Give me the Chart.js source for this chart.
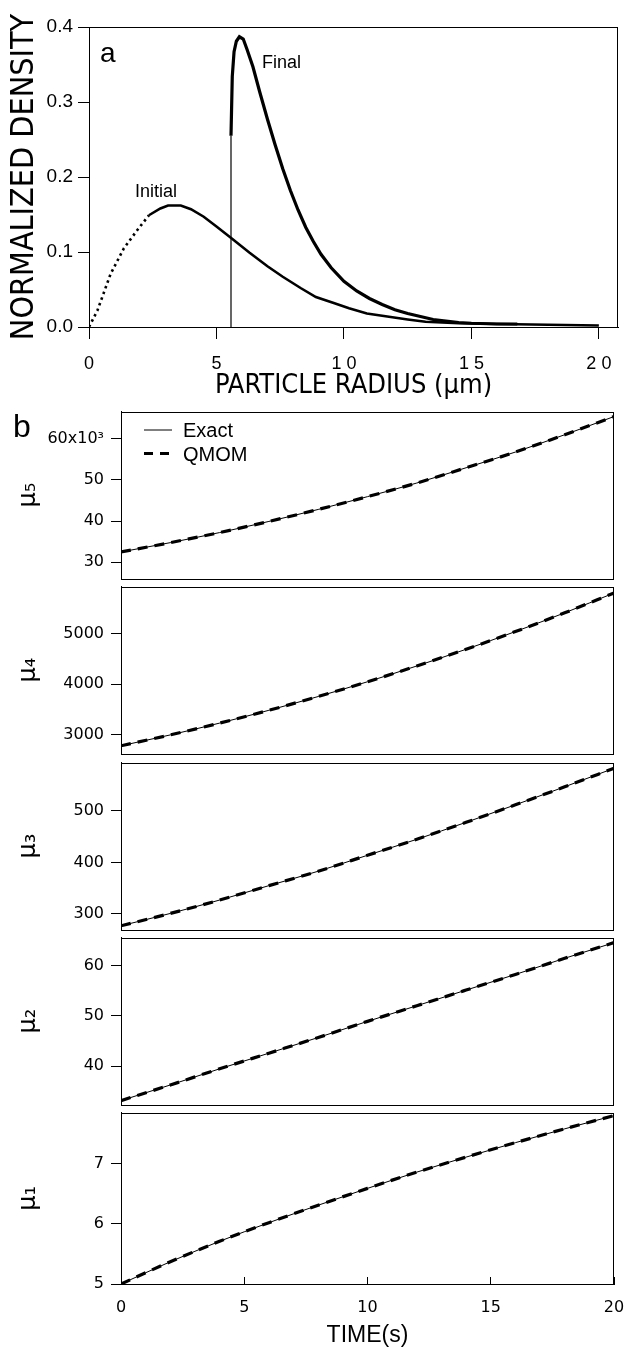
<!DOCTYPE html>
<html><head><meta charset="utf-8">
<script src="https://cdn.jsdelivr.net/npm/chart.js@4.4.1/dist/chart.umd.min.js"></script>
<style>
html,body{margin:0;padding:0;background:#fff;}
body{width:626px;height:1349px;position:relative;overflow:hidden;}
canvas{position:absolute;left:0;}
</style></head><body>
<canvas id="ca" width="626" height="405" style="top:0px"></canvas>
<canvas id="c5" width="626" height="200" style="top:395px"></canvas>
<canvas id="c4" width="626" height="200" style="top:570px"></canvas>
<canvas id="c3" width="626" height="200" style="top:746px"></canvas>
<canvas id="c2" width="626" height="200" style="top:921px"></canvas>
<canvas id="c1" width="626" height="253" style="top:1096px"></canvas>
<script>
// ---------- Panel a data ----------
const radiusInitial  = [0.0, 0.33, 0.85, 1.37, 1.89, 2.35, 2.8, 3.1, 3.6, 4.0, 4.5, 5.0, 5.6, 6.3, 7.0, 7.6, 8.3, 8.9, 9.6, 10.2, 10.9, 11.7, 12.5, 13.2, 14.5, 16.1, 18.0, 20.0];
const densityInitial = [0.0, 0.022, 0.071, 0.105, 0.129, 0.149, 0.158, 0.162, 0.162, 0.157, 0.147, 0.134, 0.118, 0.099, 0.081, 0.067, 0.052, 0.040, 0.032, 0.025, 0.018, 0.014, 0.010, 0.007, 0.005, 0.004, 0.003, 0.002];
const radiusFinal  = [5.57, 5.57, 5.62, 5.69, 5.78, 5.9, 6.05, 6.2, 6.43, 6.7, 7.0, 7.3, 7.6, 7.9, 8.2, 8.5, 8.8, 9.1, 9.5, 10.0, 10.5, 11.0, 11.5, 12.0, 12.5, 13.0, 13.5, 14.0, 14.5, 15.0, 16.0, 16.8];
const densityFinal = [0.0, 0.255, 0.334, 0.367, 0.381, 0.387, 0.384, 0.370, 0.347, 0.313, 0.277, 0.243, 0.211, 0.182, 0.156, 0.133, 0.114, 0.097, 0.079, 0.061, 0.048, 0.038, 0.030, 0.023, 0.018, 0.014, 0.010, 0.008, 0.006, 0.005, 0.004, 0.004];
const radiusTicks  = [0, 5, 10, 15, 20];
const densityTicks = [0, 0.1, 0.2, 0.3, 0.4];

// ---------- Panel b data ----------
const timeS = [0, 2, 4, 6, 8, 10, 12, 14, 16, 18, 20];
const mu5Exact = [32500, 34760, 37200, 39900, 42800, 45900, 49200, 52900, 56700, 60900, 65300];
const mu5Qmom  = [32500, 34760, 37200, 39900, 42800, 45900, 49200, 52900, 56700, 60900, 65300];
const mu4Exact = [2775, 2991, 3226, 3481, 3755, 4049, 4363, 4696, 5048, 5421, 5815];
const mu4Qmom  = [2775, 2991, 3226, 3481, 3755, 4049, 4363, 4696, 5048, 5421, 5815];
const mu3Exact = [277, 301, 327, 355, 383, 414, 445, 478, 512, 547, 583];
const mu3Qmom  = [277, 301, 327, 355, 383, 414, 445, 478, 512, 547, 583];
const mu2Exact = [33.2, 36.3, 39.5, 42.6, 45.7, 48.9, 52.0, 55.1, 58.2, 61.4, 64.5];
const mu2Qmom  = [33.2, 36.3, 39.5, 42.6, 45.7, 48.9, 52.0, 55.1, 58.2, 61.4, 64.5];
const mu1Exact = [5.00, 5.37, 5.71, 6.02, 6.31, 6.59, 6.86, 7.11, 7.35, 7.58, 7.80];
const mu1Qmom  = [5.00, 5.37, 5.71, 6.02, 6.31, 6.59, 6.86, 7.11, 7.35, 7.58, 7.80];
const timeTicks = [0, 5, 10, 15, 20];
const mu5Ticks = [30000, 40000, 50000, 60000];
const mu4Ticks = [3000, 4000, 5000];
const mu3Ticks = [300, 400, 500];
const mu2Ticks = [40, 50, 60];
const mu1Ticks = [5, 6, 7];
const legendLabels = ['Exact', 'QMOM'];

const SANS = "'Liberation Sans', Arial, Helvetica, sans-serif";
const NARROW = "'Liberation Sans Narrow', 'DejaVu Sans Condensed', 'Liberation Sans', sans-serif";
const DEJA = "'DejaVu Sans', 'Liberation Sans', sans-serif";

Chart.defaults.color = '#000';
Chart.defaults.animation = false;

const framePlugin = {
  id: 'frame',
  afterDraw(chart, args, opts) {
    const a = chart.chartArea, c = chart.ctx;
    c.save();
    c.strokeStyle = opts.color || '#000';
    c.lineWidth = 1;
    c.strokeRect(Math.round(a.left) + 0.5, Math.round(a.top) + 0.5, Math.round(a.right - a.left) - 1, Math.round(a.bottom - a.top));
    c.restore();
  }
};
const textPlugin = {
  id: 'notes',
  afterDraw(chart, args, opts) {
    const c = chart.ctx;
    c.save();
    c.fillStyle = '#000';
    c.textBaseline = 'alphabetic';
    (opts.items || []).forEach(t => { c.font = t.font; c.fillText(t.text, t.x, t.y); });
    (opts.lines || []).forEach(l => {
      c.beginPath(); c.lineWidth = l.w; c.strokeStyle = '#000'; c.setLineDash(l.dash || []);
      c.moveTo(l.x1, l.y); c.lineTo(l.x2, l.y); c.stroke();
    });
    c.restore();
  }
};

function pts(xs, ys) { return xs.map((x, i) => ({x: x, y: ys[i]})); }
function noSidePad(s) { s.paddingLeft = 0; s.paddingRight = 0; }

// ---------- Panel a ----------
new Chart(document.getElementById('ca'), {
  type: 'line',
  data: {
    datasets: [
      { label: 'Initial', data: pts(radiusInitial, densityInitial), borderColor: '#000', borderWidth: 2.6, pointRadius: 0, tension: 0,
        segment: { borderDash: ctx => ctx.p1.parsed.x <= 2.4 ? [2.5, 3.5] : undefined } },
      { label: 'Final', data: pts(radiusFinal, densityFinal), borderColor: '#000', borderWidth: 3.2, pointRadius: 0, tension: 0,
        segment: { borderWidth: ctx => (ctx.p0.parsed.x === ctx.p1.parsed.x) ? 1.2 : undefined } }
    ]
  },
  options: {
    responsive: false,
    layout: { padding: { top: 27, right: 8, left: 0, bottom: 0 } },
    plugins: {
      legend: { display: false }, tooltip: { enabled: false },
      frame: {},
      notes: { items: [
        { text: 'a', x: 100, y: 62, font: '28px ' + SANS },
        { text: 'Final', x: 262, y: 68, font: '18px ' + SANS },
        { text: 'Initial', x: 135, y: 197, font: '18px ' + SANS }
      ] }
    },
    scales: {
      x: {
        type: 'linear', min: 0, max: 20.75,
        afterFit: s => { s.height = 78; noSidePad(s); },
        afterBuildTicks: s => { s.ticks = radiusTicks.map(v => ({value: v})); },
        ticks: { font: { family: SANS, size: 18 }, padding: 14, maxRotation: 0, callback: v => String(v).split('').join(' ') },
        grid: { display: true, drawOnChartArea: false, drawTicks: true, tickLength: 12, color: '#000' },
        border: { display: true, color: '#000' },
        title: { display: true, text: 'PARTICLE RADIUS (μm)', font: { family: NARROW, size: 27 }, padding: { top: 0, bottom: 3 } }
      },
      y: {
        type: 'linear', min: 0, max: 0.4,
        afterFit: s => { s.width = 89; },
        afterBuildTicks: s => { s.ticks = densityTicks.map(v => ({value: v})); },
        ticks: { font: { family: SANS, size: 19 }, padding: 5, callback: v => v.toFixed(1) },
        grid: { display: true, drawOnChartArea: false, drawTicks: true, tickLength: 11, color: '#000' },
        border: { display: true, color: '#000' },
        title: { display: true, text: 'NORMALIZED DENSITY', font: { family: NARROW, size: 32 }, padding: { top: 5, bottom: 0 } }
      }
    }
  },
  plugins: [framePlugin, textPlugin]
});

// ---------- Panel b ----------
function muChart(id, title, exact, qmom, yMin, yMax, yTicks, tickFmt, opts) {
  const showX = opts.showX;
  const cfg = {
    type: 'line',
    data: {
      datasets: [
        { label: legendLabels[1], data: pts(timeS, qmom), borderColor: '#000', borderWidth: 3.2, borderDash: [10, 7], pointRadius: 0, cubicInterpolationMode: 'monotone' },
        { label: legendLabels[0], data: pts(timeS, exact), borderColor: '#000', borderWidth: 1, pointRadius: 0, cubicInterpolationMode: 'monotone' }
      ]
    },
    options: {
      responsive: false,
      layout: { padding: { top: 13, right: 12, left: 0, bottom: showX ? 0 : opts.padBottom } },
      plugins: { legend: { display: false }, tooltip: { enabled: false }, frame: {}, notes: opts.notes || {} },
      scales: {
        x: showX ? {
          type: 'linear', min: 0, max: 20,
          afterFit: s => { s.height = 65; noSidePad(s); },
          afterBuildTicks: s => { s.ticks = timeTicks.map(v => ({value: v})); },
          ticks: { font: { family: DEJA, size: 16 }, padding: 21, maxRotation: 0 },
          grid: { display: true, drawOnChartArea: false, drawTicks: true, tickLength: -7, color: '#000' },
          border: { display: true, color: '#000' },
          title: { display: true, text: 'TIME(s)', font: { family: SANS, size: 23 }, padding: { top: 0, bottom: 0 } }
        } : { type: 'linear', min: 0, max: 20, display: false },
        y: {
          type: 'linear', min: yMin, max: yMax,
          afterFit: s => { s.width = 121; },
          afterBuildTicks: s => { s.ticks = yTicks.map(v => ({value: v})); },
          ticks: { font: { family: DEJA, size: 16 }, padding: 7, callback: tickFmt },
          grid: { display: true, drawOnChartArea: false, drawTicks: true, tickLength: 10, color: '#000' },
          border: { display: true, color: '#000' },
          title: { display: true, text: title, font: { family: DEJA, size: 24 }, padding: { top: 14, bottom: 0 } }
        }
      }
    },
    plugins: [framePlugin, textPlugin]
  };
  return new Chart(document.getElementById(id), cfg);
}

muChart('c5', 'μ₅', mu5Exact, mu5Qmom, 26100, 66500, mu5Ticks,
  v => v === 60000 ? '60x10³' : String(v / 1000),
  { showX: false, padBottom: 12, notes: {
    items: [
      { text: 'b', x: 13, y: 42, font: '32px ' + SANS },
      { text: legendLabels[0], x: 183, y: 42, font: '20px ' + SANS },
      { text: legendLabels[1], x: 183, y: 66, font: '20px ' + SANS }
    ],
    lines: [
      { x1: 144, x2: 172, y: 35, w: 1 },
      { x1: 144, x2: 172, y: 58.5, w: 3.2, dash: [9, 7] }
    ] } });
muChart('c4', 'μ₄', mu4Exact, mu4Qmom, 2623, 5943, mu4Ticks, v => String(v), { showX: false, padBottom: 11 });
muChart('c3', 'μ₃', mu3Exact, mu3Qmom, 270, 594, mu3Ticks, v => String(v), { showX: false, padBottom: 12 });
muChart('c2', 'μ₂', mu2Exact, mu2Qmom, 32.45, 65.5, mu2Ticks, v => String(v), { showX: false, padBottom: 12 });
muChart('c1', 'μ₁', mu1Exact, mu1Qmom, 5, 7.85, mu1Ticks, v => String(v), { showX: true });
</script>
</body></html>
